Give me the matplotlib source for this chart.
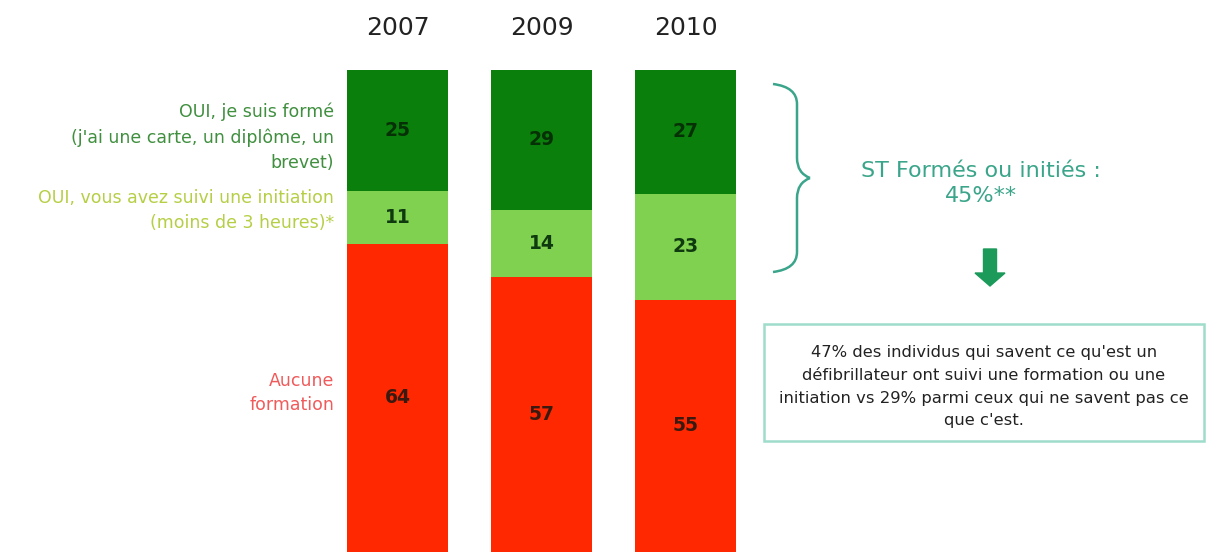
import matplotlib.pyplot as plt
from matplotlib.patches import FancyArrow, Rectangle, PathPatch
from matplotlib.path import Path
import numpy as np

# Data
years = ['2007', '2009', '2010']
forme = [25, 29, 27]        # OUI, je suis formé
initiation = [11, 14, 23]   # OUI, initiation
aucune = [64, 57, 55]       # Aucune formation

c_dark = '#0b7f0b'
c_light = '#7fd14f'
c_red = '#ff2800'
c_teal = '#3aa58a'

W, H = 1208, 554
fig = plt.figure(figsize=(W / 100, H / 100), dpi=100)
fig.patch.set_facecolor('white')


def fx(px):
    return px / W


def fy(py):
    return 1 - py / H


# Bars axes: 144 px between bar centres, first centre at 397.5 px
ax = fig.add_axes([fx(325.5), fy(552), 432 / W, 482 / H])
ax.set_xlim(-0.5, 2.5)
ax.set_ylim(0, 100)
ax.axis('off')

x = np.arange(len(years))
tot = np.array(forme) + np.array(initiation) + np.array(aucune)
red = np.array(aucune) / tot * 100
light = np.array(initiation) / tot * 100
dark = np.array(forme) / tot * 100

ax.bar(x, red, width=0.695, color=c_red)
ax.bar(x, light, width=0.695, bottom=red, color=c_light)
ax.bar(x, dark, width=0.695, bottom=red + light, color=c_dark)

for i in range(len(years)):
    ax.text(x[i], red[i] / 2, str(aucune[i]), ha='center', va='center',
            fontsize=13.5, fontweight='bold', color='#3a1a10')
    ax.text(x[i], red[i] + light[i] / 2, str(initiation[i]), ha='center', va='center',
            fontsize=13.5, fontweight='bold', color='#0f3a0f')
    ax.text(x[i], red[i] + light[i] + dark[i] / 2, str(forme[i]), ha='center', va='center',
            fontsize=13.5, fontweight='bold', color='#063006')
    # year label above the bar
    ax.annotate(years[i], (x[i], 100), xytext=(0, 30), textcoords='offset points',
                ha='center', va='center', fontsize=18, color='#222222')

# Left labels
lab_kw = dict(ha='right', va='center', fontsize=12.5)
fig.text(fx(334), fy(112), 'OUI, je suis formé', color='#3f8f3f', **lab_kw)
fig.text(fx(334), fy(138), "(j'ai une carte, un diplôme, un", color='#3f8f3f', **lab_kw)
fig.text(fx(334), fy(163), 'brevet)', color='#3f8f3f', **lab_kw)
fig.text(fx(334), fy(198), 'OUI, vous avez suivi une initiation', color='#b5cf45', **lab_kw)
fig.text(fx(334), fy(223), '(moins de 3 heures)*', color='#b5cf45', **lab_kw)
fig.text(fx(334), fy(381), 'Aucune', color='#f05a5a', **lab_kw)
fig.text(fx(334), fy(405), 'formation', color='#f05a5a', **lab_kw)

# Right annotations: brace
bx0, bx1 = 773, 802
ytop, ymid, ybot = 84, 178, 272
verts = [(bx0, ytop), (bx1 - 5, ytop + 3), (bx1 - 5, ytop + 20), (bx1 - 5, ymid - 20),
         (bx1 - 5, ymid - 5), (bx1 + 8, ymid), (bx1 + 8, ymid),
         (bx1 - 5, ymid + 5), (bx1 - 5, ymid + 20), (bx1 - 5, ybot - 20),
         (bx1 - 5, ybot - 3), (bx0, ybot)]
verts = [(fx(a), fy(b)) for a, b in verts]
codes = [Path.MOVETO, Path.CURVE3, Path.CURVE3, Path.LINETO,
         Path.CURVE3, Path.CURVE3, Path.MOVETO,
         Path.CURVE3, Path.CURVE3, Path.LINETO,
         Path.CURVE3, Path.CURVE3]
fig.patches.append(PathPatch(Path(verts, codes), transform=fig.transFigure,
                             fill=False, edgecolor=c_teal, lw=1.8))

fig.text(fx(981), fy(171), 'ST Formés ou initiés :', ha='center', va='center',
         fontsize=16, color=c_teal)
fig.text(fx(981), fy(196), '45%**', ha='center', va='center',
         fontsize=16, color=c_teal)

# Arrow
fig.patches.append(FancyArrow(fx(990), fy(249), 0, -(37 / H), width=13 / W,
                              head_width=30 / W, head_length=13 / H,
                              length_includes_head=True, transform=fig.transFigure,
                              color='#1b9a5a'))

# Box
fig.patches.append(Rectangle((fx(764), fy(441)), 440 / W, 117 / H, transform=fig.transFigure,
                             fill=False, edgecolor='#9fdccb', lw=1.8))
box_lines = ["47% des individus qui savent ce qu'est un",
             "défibrillateur ont suivi une formation ou une",
             "initiation vs 29% parmi ceux qui ne savent pas ce",
             "que c'est."]
for k, line in enumerate(box_lines):
    fig.text(fx(984), fy(352 + 23 * k), line, ha='center', va='center',
             fontsize=11.8, color='#222222')

fig.savefig('out.png', dpi=100)
